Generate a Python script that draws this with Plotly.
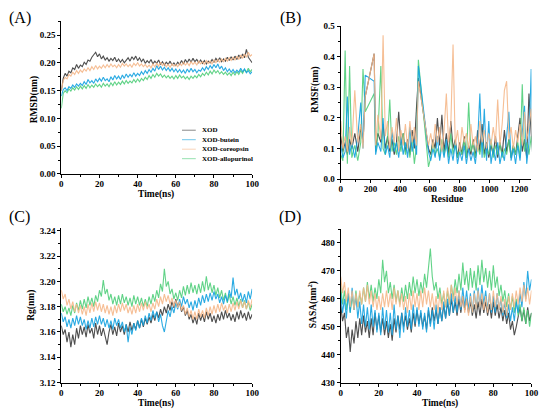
import plotly.graph_objects as go

# ---------------- data ----------------
names = ["XOD", "XOD-butein", "XOD-coreopsin", "XOD-allopurinol"]
colors = ["#3c3c3c", "#14a2e0", "#f6b88a", "#52cf7c"]
draw_order = [0, 3, 1, 2]

time_ns = list(range(0, 101))

rmsd_xod = [0.150,0.172,0.181,0.176,0.185,0.182,0.191,0.188,0.197,0.190,0.196,0.193,0.201,0.197,0.205,0.203,0.210,0.214,0.219,0.211,
            0.216,0.207,0.212,0.205,0.209,0.203,0.208,0.204,0.210,0.202,0.207,0.201,0.206,0.200,0.205,0.209,0.203,0.211,0.206,0.212,
            0.204,0.209,0.202,0.207,0.199,0.204,0.200,0.206,0.198,0.203,0.199,0.205,0.197,0.202,0.196,0.201,0.197,0.203,0.196,0.200,
            0.195,0.201,0.197,0.204,0.198,0.206,0.200,0.207,0.201,0.208,0.202,0.206,0.200,0.205,0.199,0.204,0.198,0.203,0.200,0.206,
            0.201,0.208,0.203,0.209,0.202,0.207,0.203,0.210,0.204,0.211,0.205,0.212,0.206,0.214,0.208,0.216,0.209,0.224,0.210,0.205,0.200]
rmsd_butein = [0.140,0.152,0.155,0.150,0.157,0.154,0.160,0.156,0.162,0.158,0.163,0.159,0.166,0.161,0.170,0.164,0.168,0.163,0.171,0.166,
               0.172,0.167,0.174,0.168,0.171,0.166,0.175,0.169,0.177,0.171,0.176,0.170,0.178,0.172,0.180,0.174,0.179,0.175,0.182,0.176,
               0.181,0.177,0.184,0.179,0.186,0.181,0.188,0.183,0.190,0.185,0.195,0.188,0.194,0.187,0.192,0.186,0.191,0.185,0.190,0.184,
               0.189,0.183,0.188,0.182,0.187,0.181,0.189,0.183,0.190,0.184,0.188,0.182,0.187,0.185,0.191,0.186,0.193,0.188,0.195,0.190,
               0.197,0.191,0.198,0.189,0.194,0.186,0.191,0.184,0.189,0.183,0.188,0.182,0.187,0.183,0.190,0.184,0.189,0.182,0.186,0.180,0.184]
rmsd_coreopsin = [0.150,0.168,0.174,0.171,0.179,0.176,0.183,0.179,0.186,0.181,0.187,0.183,0.189,0.185,0.191,0.186,0.193,0.188,0.195,0.189,
                  0.194,0.190,0.196,0.191,0.197,0.192,0.198,0.193,0.196,0.191,0.197,0.192,0.199,0.194,0.198,0.193,0.197,0.192,0.199,0.195,
                  0.200,0.194,0.198,0.193,0.197,0.192,0.196,0.191,0.198,0.193,0.199,0.194,0.201,0.195,0.199,0.193,0.197,0.192,0.198,0.194,
                  0.197,0.193,0.199,0.195,0.201,0.196,0.200,0.195,0.202,0.197,0.201,0.196,0.203,0.198,0.202,0.197,0.204,0.199,0.203,0.198,
                  0.205,0.200,0.206,0.201,0.207,0.202,0.208,0.203,0.209,0.204,0.210,0.205,0.212,0.206,0.214,0.208,0.216,0.210,0.219,0.212,0.215]
rmsd_allopurinol = [0.118,0.145,0.150,0.146,0.153,0.149,0.155,0.151,0.157,0.152,0.158,0.153,0.159,0.154,0.161,0.155,0.160,0.156,0.162,0.157,
                    0.161,0.156,0.163,0.158,0.162,0.157,0.164,0.159,0.166,0.160,0.165,0.161,0.167,0.162,0.168,0.163,0.167,0.164,0.170,0.165,
                    0.171,0.166,0.172,0.168,0.174,0.170,0.177,0.172,0.179,0.174,0.181,0.176,0.180,0.174,0.178,0.173,0.177,0.172,0.176,0.171,
                    0.177,0.172,0.178,0.173,0.176,0.171,0.175,0.170,0.176,0.172,0.177,0.173,0.179,0.175,0.181,0.177,0.183,0.178,0.185,0.180,
                    0.187,0.182,0.186,0.180,0.184,0.179,0.183,0.178,0.182,0.177,0.183,0.178,0.184,0.179,0.186,0.181,0.188,0.183,0.190,0.184,0.188]

residue = [1,15,30,45,60,75,95,115,135,150,165,
           225,235,250,270,285,300,315,330,345,360,375,390,405,420,435,450,465,480,495,510,522,
           590,605,620,635,650,665,680,695,710,725,740,755,770,785,800,815,830,845,860,875,890,905,920,935,950,965,980,995,
           1010,1025,1040,1055,1070,1085,1100,1115,1130,1145,1160,1175,1190,1205,1220,1235,1250,1265,1280,1290]

rmsf_xod = [0.14,0.09,0.12,0.08,0.13,0.10,0.15,0.09,0.17,0.12,0.27,
            0.41,0.10,0.15,0.12,0.18,0.10,0.14,0.09,0.13,0.08,0.12,0.22,0.11,0.15,0.09,0.13,0.08,0.16,0.10,0.24,0.33,
            0.10,0.08,0.13,0.10,0.20,0.11,0.21,0.09,0.15,0.08,0.19,0.10,0.13,0.07,0.12,0.08,0.14,0.07,0.11,0.08,0.13,0.07,0.16,0.09,0.18,0.08,0.12,0.07,
            0.11,0.08,0.14,0.07,0.12,0.08,0.16,0.09,0.13,0.07,0.11,0.08,0.14,0.20,0.09,0.13,0.07,0.28,0.15,0.08]
rmsf_butein = [0.11,0.07,0.09,0.27,0.08,0.12,0.07,0.14,0.25,0.10,0.34,
               0.32,0.08,0.12,0.09,0.20,0.08,0.11,0.07,0.16,0.09,0.12,0.07,0.14,0.08,0.12,0.07,0.17,0.09,0.13,0.08,0.37,
               0.09,0.06,0.10,0.07,0.14,0.06,0.11,0.07,0.13,0.05,0.10,0.06,0.12,0.05,0.09,0.06,0.11,0.05,0.10,0.06,0.09,0.05,0.12,0.28,0.07,0.23,0.06,0.19,
               0.05,0.10,0.06,0.12,0.05,0.09,0.06,0.13,0.22,0.06,0.10,0.05,0.11,0.06,0.14,0.24,0.05,0.12,0.36,0.06]
rmsf_coreopsin = [0.19,0.10,0.14,0.09,0.17,0.11,0.29,0.12,0.18,0.10,0.27,
                  0.41,0.11,0.21,0.13,0.47,0.14,0.19,0.10,0.17,0.12,0.20,0.09,0.16,0.11,0.18,0.10,0.19,0.12,0.17,0.11,0.32,
                  0.11,0.15,0.10,0.18,0.12,0.17,0.09,0.16,0.28,0.12,0.18,0.44,0.11,0.16,0.09,0.17,0.12,0.15,0.10,0.18,0.11,0.14,0.09,0.19,0.12,0.16,0.10,0.15,
                  0.11,0.17,0.12,0.26,0.11,0.18,0.29,0.32,0.13,0.17,0.10,0.16,0.12,0.18,0.11,0.22,0.13,0.17,0.23,0.10]
rmsf_allopurinol = [0.08,0.06,0.42,0.05,0.37,0.07,0.11,0.06,0.12,0.36,0.22,
                    0.28,0.09,0.14,0.37,0.10,0.08,0.13,0.26,0.09,0.12,0.08,0.14,0.09,0.15,0.08,0.12,0.07,0.14,0.05,0.11,0.39,
                    0.04,0.07,0.12,0.08,0.10,0.07,0.13,0.08,0.11,0.07,0.15,0.08,0.12,0.07,0.10,0.08,0.13,0.07,0.25,0.09,0.12,0.07,0.11,0.08,0.14,0.07,0.10,0.08,
                    0.13,0.07,0.11,0.08,0.12,0.07,0.10,0.08,0.13,0.07,0.11,0.08,0.12,0.07,0.31,0.09,0.12,0.08,0.14,0.09]

rg_xod = [3.165,3.158,3.162,3.152,3.160,3.148,3.158,3.150,3.163,3.155,3.165,3.158,3.164,3.156,3.166,3.159,3.163,3.155,3.167,3.158,
          3.165,3.157,3.163,3.155,3.150,3.160,3.166,3.158,3.164,3.157,3.167,3.160,3.165,3.158,3.166,3.160,3.168,3.161,3.167,3.162,
          3.169,3.163,3.170,3.164,3.171,3.166,3.172,3.167,3.174,3.169,3.176,3.171,3.178,3.173,3.180,3.175,3.182,3.177,3.184,3.179,
          3.186,3.180,3.183,3.176,3.180,3.173,3.177,3.170,3.174,3.167,3.172,3.166,3.175,3.169,3.174,3.168,3.176,3.170,3.175,3.168,
          3.173,3.167,3.174,3.169,3.176,3.170,3.177,3.171,3.175,3.169,3.174,3.168,3.176,3.170,3.177,3.171,3.175,3.169,3.176,3.170,3.174]
rg_butein = [3.175,3.168,3.172,3.164,3.170,3.163,3.171,3.165,3.173,3.166,3.172,3.165,3.170,3.162,3.169,3.163,3.171,3.164,3.172,3.166,
             3.173,3.166,3.171,3.164,3.170,3.163,3.169,3.162,3.171,3.165,3.170,3.163,3.168,3.160,3.166,3.152,3.164,3.158,3.167,3.161,
             3.169,3.163,3.171,3.165,3.173,3.167,3.175,3.169,3.177,3.171,3.176,3.168,3.174,3.165,3.160,3.170,3.177,3.172,3.180,3.175,
             3.183,3.178,3.186,3.180,3.188,3.182,3.186,3.179,3.184,3.177,3.185,3.179,3.187,3.181,3.189,3.183,3.190,3.184,3.191,3.185,
             3.192,3.186,3.190,3.183,3.188,3.182,3.189,3.184,3.193,3.187,3.203,3.189,3.194,3.186,3.191,3.184,3.190,3.183,3.192,3.186,3.194]
rg_coreopsin = [3.193,3.186,3.190,3.181,3.186,3.178,3.184,3.176,3.182,3.175,3.181,3.174,3.180,3.173,3.182,3.175,3.183,3.176,3.184,3.177,
                3.183,3.176,3.182,3.175,3.181,3.174,3.180,3.173,3.181,3.175,3.182,3.176,3.183,3.177,3.182,3.175,3.180,3.174,3.181,3.175,
                3.182,3.176,3.183,3.177,3.184,3.178,3.182,3.176,3.183,3.178,3.186,3.180,3.188,3.182,3.190,3.184,3.189,3.182,3.187,3.180,
                3.185,3.179,3.184,3.177,3.181,3.174,3.179,3.172,3.177,3.170,3.176,3.170,3.178,3.172,3.177,3.171,3.179,3.173,3.180,3.174,
                3.181,3.175,3.182,3.176,3.183,3.177,3.181,3.175,3.182,3.176,3.183,3.177,3.184,3.178,3.185,3.179,3.184,3.178,3.185,3.179,3.186]
rg_allopurinol = [3.182,3.176,3.180,3.174,3.179,3.173,3.181,3.175,3.183,3.177,3.185,3.178,3.186,3.179,3.188,3.181,3.187,3.180,3.189,3.184,
                  3.193,3.188,3.201,3.190,3.194,3.185,3.190,3.182,3.188,3.181,3.189,3.182,3.190,3.183,3.188,3.181,3.187,3.180,3.189,3.182,
                  3.188,3.181,3.187,3.180,3.186,3.180,3.188,3.182,3.190,3.184,3.193,3.187,3.198,3.192,3.210,3.196,3.200,3.190,3.194,3.186,
                  3.191,3.185,3.193,3.187,3.196,3.189,3.197,3.190,3.199,3.191,3.197,3.190,3.198,3.191,3.200,3.192,3.204,3.193,3.199,3.191,
                  3.197,3.189,3.195,3.187,3.193,3.185,3.191,3.183,3.190,3.182,3.188,3.181,3.187,3.180,3.186,3.179,3.185,3.178,3.184,3.177,3.182]

sasa_xod = [458,452,455,446,450,441,449,444,452,446,453,447,454,448,452,446,453,447,455,449,
            454,448,453,447,452,446,451,445,453,448,454,449,455,450,454,449,453,448,455,450,
            456,451,455,450,454,449,456,451,457,452,456,451,457,452,458,453,459,454,460,455,
            459,454,460,455,461,456,460,455,459,454,458,453,459,454,460,455,459,454,458,453,
            459,454,458,453,457,452,456,451,455,449,452,447,450,453,457,452,456,451,457,452,455]
sasa_butein = [462,455,460,453,462,455,464,456,461,453,459,451,458,450,457,449,458,450,456,448,
               455,447,457,449,456,448,455,447,458,449,454,446,455,448,457,450,456,449,458,451,
               457,450,456,449,455,448,457,450,456,449,458,451,457,452,459,453,460,454,462,455,
               461,455,463,456,464,457,463,456,462,455,463,456,464,457,465,458,463,456,462,455,
               461,455,462,456,460,454,459,453,458,452,457,452,459,455,462,457,466,460,470,463,467]
sasa_coreopsin = [468,462,466,459,464,457,463,456,462,457,463,458,464,459,465,458,463,457,462,456,
                  461,456,462,457,463,457,462,456,464,458,463,457,462,456,461,455,462,456,463,457,
                  462,456,463,457,464,458,463,457,462,456,461,455,462,456,463,457,464,458,465,459,
                  464,458,463,457,461,455,460,454,461,455,462,456,463,457,462,456,461,455,462,456,
                  463,457,462,456,461,455,460,454,461,456,462,457,463,458,464,459,465,459,464,458,463]
sasa_allopurinol = [465,458,463,456,462,455,461,456,463,457,462,458,464,459,466,460,465,459,464,460,
                    467,462,474,466,470,462,466,460,465,459,463,458,464,459,465,460,466,461,468,462,
                    467,461,466,462,469,464,471,478,468,463,466,460,464,458,462,457,463,458,465,460,
                    467,462,469,463,473,465,470,463,471,464,470,463,472,465,474,466,471,464,470,463,
                    472,464,468,461,465,459,463,457,462,456,461,455,460,454,458,452,457,451,456,450,455]

rmsd = [rmsd_xod, rmsd_butein, rmsd_coreopsin, rmsd_allopurinol]
rmsf = [rmsf_xod, rmsf_butein, rmsf_coreopsin, rmsf_allopurinol]
rg = [rg_xod, rg_butein, rg_coreopsin, rg_allopurinol]
sasa = [sasa_xod, sasa_butein, sasa_coreopsin, sasa_allopurinol]

# ---------------- figure ----------------
W, H = 550, 416
SERIF = "Liberation Serif, Times New Roman, serif"
fig = go.Figure()

panels = [
    ("x", "y", time_ns, rmsd),
    ("x2", "y2", residue, rmsf),
    ("x3", "y3", time_ns, rg),
    ("x4", "y4", time_ns, sasa),
]
for xa, ya, xs, series in panels:
    for i in draw_order:
        fig.add_trace(go.Scatter(
            x=xs, y=series[i], mode="lines", name=names[i],
            line=dict(color=colors[i], width=1.1), opacity=0.9,
            xaxis=xa, yaxis=ya, showlegend=False, hoverinfo="skip"))

def px_x(p):
    return p / W

def px_y(p):
    return 1 - p / H

tickfont = dict(family=SERIF, size=9, color="black", weight="bold")

def xaxis(dom, rng, dtick, mdtick, anchor):
    return dict(domain=dom, range=rng, dtick=dtick, tick0=0, anchor=anchor,
                showline=True, linecolor="black", linewidth=1.2, showgrid=False,
                zeroline=False, ticks="outside", ticklen=3, tickwidth=1.1,
                tickcolor="black", tickfont=tickfont, ticklabelstandoff=-2,
                minor=dict(ticks="outside", ticklen=2, dtick=mdtick, tickcolor="black", tickwidth=1))

def yaxis(dom, rng, dtick, mdtick, anchor, fmt, tick0=0):
    return dict(domain=dom, range=rng, dtick=dtick, tick0=tick0, anchor=anchor,
                showline=True, linecolor="black", linewidth=1.2, showgrid=False,
                zeroline=False, ticks="outside", ticklen=3, tickwidth=1.1,
                tickcolor="black", tickfont=tickfont, tickformat=fmt,
                minor=dict(ticks="outside", ticklen=2, dtick=mdtick, tickcolor="black", tickwidth=1))

xA = [px_x(60.3), px_x(254.3)]
xB = [px_x(344.3), px_x(538.3)]

fig.update_layout(
    width=W, height=H, autosize=False,
    margin=dict(l=0, r=0, t=0, b=0),
    paper_bgcolor="white", plot_bgcolor="white",
    showlegend=False,
    xaxis=xaxis(xA, [0, 100], 20, 10, "y"),
    yaxis=yaxis([px_y(173.7), px_y(17)], [0, 0.2759], 0.05, 0.025, "x", ".2f"),
    xaxis2=xaxis(xB, [0, 1282], 200, 100, "y2"),
    yaxis2=yaxis([px_y(179), px_y(22)], [0, 0.502], 0.1, 0.05, "x2", ".1f"),
    xaxis3=xaxis(xA, [0, 100], 20, 10, "y3"),
    yaxis3=yaxis([px_y(387), px_y(229.3)], [3.12, 3.2419], 0.02, 0.01, "x3", ".2f", tick0=3.12),
    xaxis4=xaxis(xB, [0, 100], 20, 10, "y4"),
    yaxis4=yaxis([px_y(387), px_y(230)], [430, 485], 10, 5, "x4", "d", tick0=430),
)

ann = []
def label(text, x, y, size=9.5, bold=True, angle=0, family=SERIF):
    ann.append(dict(text=text, x=px_x(x), y=px_y(y), xref="paper", yref="paper",
                    showarrow=False, textangle=angle, xanchor="center", yanchor="middle",
                    font=dict(family=family, size=size, color="black",
                              weight="bold" if bold else "normal")))

# panel letters
label("(A)", 18, 14, size=16, bold=False)
label("(B)", 293, 14, size=16, bold=False)
label("(C)", 18, 218, size=16, bold=False)
label("(D)", 293, 218, size=16, bold=False)
# axis titles
label("Time(ns)", 157, 195)
label("RMSD(nm)", 33, 97, angle=-90)
label("Residue", 452, 199)
label("RMSF(nm)", 318, 88, angle=-90)
label("Time(ns)", 157, 408)
label("Rg(nm)", 30, 308, angle=-90)
label("Time(ns)", 445, 408)
label("SASA(nm<sup>2</sup>)", 316, 307, angle=-90)

# legend in panel A
shapes = []
for k, i in enumerate([0, 1, 2, 3]):
    yy = 129 + 9.7 * k
    shapes.append(dict(type="line", xref="paper", yref="paper",
                       x0=px_x(183), x1=px_x(197), y0=px_y(yy), y1=px_y(yy),
                       line=dict(color=colors[i], width=1), opacity=0.6))
    ann.append(dict(text=names[i], x=px_x(201), y=px_y(yy), xref="paper", yref="paper",
                    showarrow=False, xanchor="left", yanchor="middle",
                    font=dict(family=SERIF, size=7, color="black", weight="bold")))

fig.update_layout(annotations=ann, shapes=shapes)
fig.write_html("out.html", config={"displayModeBar": False},
               post_script="document.body.style.margin='0';document.body.style.overflow='hidden';")
